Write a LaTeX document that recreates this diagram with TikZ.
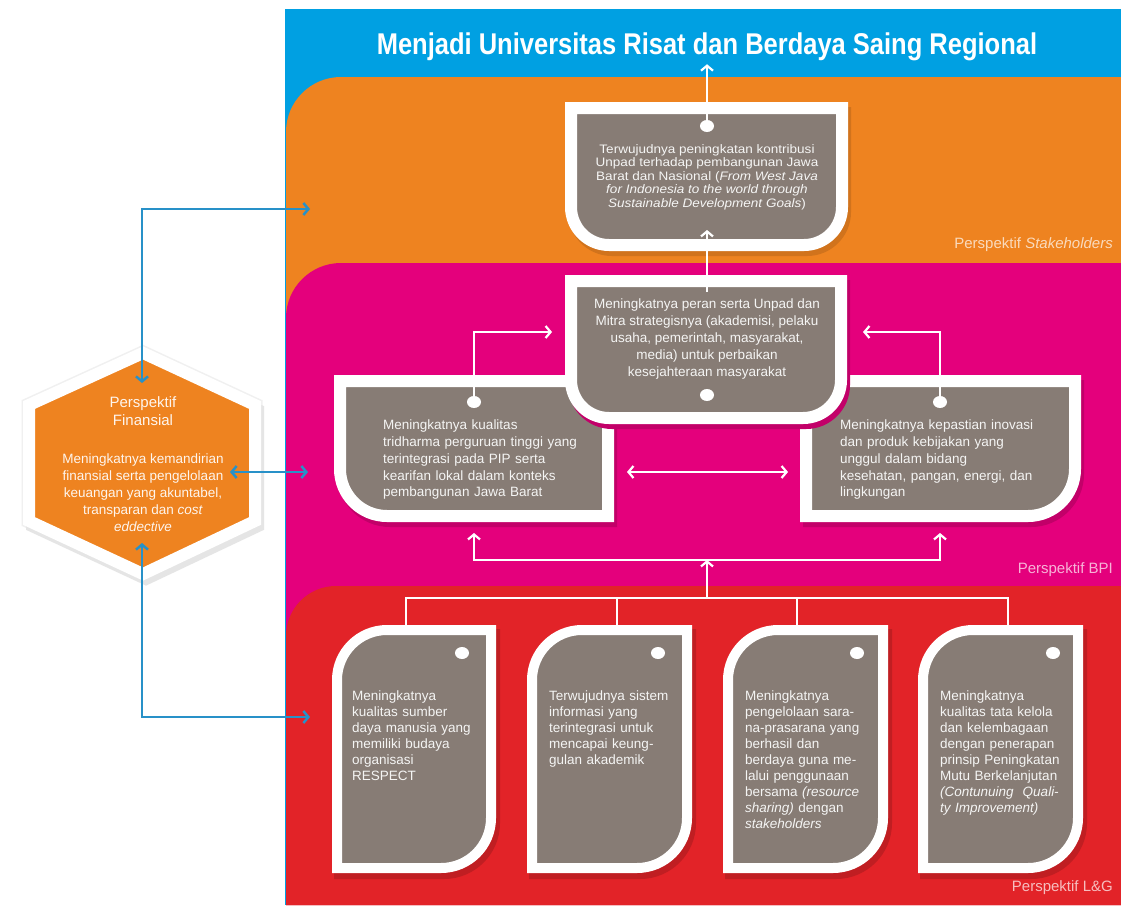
\documentclass[tikz,border=0pt]{standalone}
\usepackage{fontspec}
\setmainfont{Liberation Sans}
\newfontfamily\titlefont{Liberation Sans}[FakeStretch=0.85]
\newfontfamily\widefont{Liberation Sans}[FakeStretch=1.1]
\usetikzlibrary{arrows.meta,shapes.geometric}

\definecolor{bandblue}{RGB}{0,160,226}
\definecolor{bandorange}{RGB}{238,131,32}
\definecolor{bandpink}{RGB}{228,0,124}
\definecolor{bandred}{RGB}{226,35,40}
\definecolor{boxgray}{RGB}{135,124,117}
\definecolor{linkblue}{RGB}{40,145,200}

% outlines, in px (y grows downwards)
\newcommand{\bandshape}[2]{(286,905) -- (286,#1+#2) arc[start angle=180,end angle=270,radius=#2] -- (1121,#1) -- (1121,905) -- cycle}
\newcommand{\cupbox}[5]{(#1,#2) -- (#3,#2) -- (#3,#4-#5) arc[start angle=0,end angle=90,radius=#5] -- (#1+#5,#4) arc[start angle=90,end angle=180,radius=#5] -- cycle}
\newcommand{\leftcup}[5]{(#1,#2) -- (#3,#2) -- (#3,#4) -- (#1+#5,#4) arc[start angle=90,end angle=180,radius=#5] -- cycle}
\newcommand{\rightcup}[5]{(#1,#2) -- (#3,#2) -- (#3,#4-#5) arc[start angle=0,end angle=90,radius=#5] -- (#1,#4) -- cycle}
\newcommand{\leafbox}[5]{(#1,#2+#5) arc[start angle=180,end angle=270,radius=#5] -- (#3,#2) -- (#3,#4-#5) arc[start angle=0,end angle=90,radius=#5] -- (#1,#4) -- cycle}

\tikzset{
	boxshape/.style={fill=boxgray, draw=white, line width=12pt},
	leafshape/.style={fill=boxgray, draw=white, line width=10pt},
	boxshadow/.style={fill=#1, draw=#1, line width=12pt, shift={(3,5)}},
	knob/.style={ellipse, fill=white, inner sep=0pt, minimum width=14pt, minimum height=12pt},
	boxtext/.style={text=white!92!boxgray, inner sep=0pt, font=\fontsize{13.5}{16.5}\selectfont},
	lbl/.style={text=white, text opacity=0.7, anchor=east, inner sep=0pt, font=\fontsize{15}{18}\selectfont},
	wline/.style={draw=white, line width=2.2pt},
	warrow/.style={wline, -{Straight Barb[length=5pt,width=12pt]}},
	wboth/.style={wline, {Straight Barb[length=5pt,width=12pt]}-{Straight Barb[length=5pt,width=12pt]}},
	barrow/.style={draw=linkblue, line width=2.5pt, {Straight Barb[length=5pt,width=12pt]}-{Straight Barb[length=5pt,width=12pt]}}
}

\begin{document}
\begin{tikzpicture}[x=1pt, y=-1pt]

	\path[fill=white, use as bounding box] (0,0) rectangle (1121,905);

	% bands
	\fill[bandblue] (285,9) rectangle (1121,905);
	\fill[bandorange] \bandshape{77}{55};
	\fill[bandpink] \bandshape{263}{55};
	\fill[bandred] \bandshape{586}{50};

	\node[text=white, inner sep=3pt, font=\titlefont\bfseries\fontsize{30}{34}\selectfont] (title) at (707,47) {Menjadi Universitas Risat dan Berdaya Saing Regional};
	\node[lbl] (lstk) at (1113,245) {Perspektif \textit{Stakeholders}};
	\node[lbl] (lbpi) at (1113,570) {Perspektif BPI};
	\node[lbl] (llg) at (1113,888) {Perspektif L\&G};

	% finansial hexagon
	\path[draw=black!6, line width=15pt] (143,353) -- (255,405) -- (255,521) -- (143,574) -- (29,521) -- (29,405) -- cycle;
	\path[boxshadow=black!10] (143,353) -- (255,405) -- (255,521) -- (143,574) -- (29,521) -- (29,405) -- cycle;
	\path[fill=bandorange, draw=white, line width=12pt] (143,353) -- (255,405) -- (255,521) -- (143,574) -- (29,521) -- (29,405) -- cycle;

	% boxes
	\path[boxshadow=bandorange!88!black] \cupbox{571}{108}{842}{245}{38};
	\path[boxshape] \cupbox{571}{108}{842}{245}{38};
	\path[boxshadow=bandpink!85!black] \leftcup{340}{381}{608}{516}{47};
	\path[boxshadow=bandpink!85!black] \rightcup{806}{381}{1075}{516}{47};
	\path[boxshape] \leftcup{340}{381}{608}{516}{47};
	\path[boxshape] \rightcup{806}{381}{1075}{516}{47};
	\path[boxshadow=bandpink!85!black] \cupbox{571}{281}{841}{418}{38};
	\path[boxshape] \cupbox{571}{281}{841}{418}{38};
	\foreach \x / \y in {337/491, 532/687, 728/883, 923/1078}
	{
		\path[boxshadow=bandred!85!black] \leafbox{\x}{630}{\y}{868}{50};
		\path[leafshape] \leafbox{\x}{630}{\y}{868}{50};
	};

	\node[text=white!92!bandorange, align=center, font=\fontsize{15}{18}\selectfont] (fintitle) at (143,411) {Perspektif\\Finansial};
	\node[text=white!92!bandorange, align=center, font=\fontsize{13.5}{17}\selectfont] (fin) at (143,493) {Meningkatnya kemandirian\\finansial serta pengelolaan\\keuangan yang akuntabel,\\transparan dan \textit{cost}\\\textit{eddective}};

	\node[boxtext, align=center, font=\widefont\fontsize{12.3}{13.5}\selectfont] (s1) at (707,177) {Terwujudnya peningkatan kontribusi\\Unpad terhadap pembangunan Jawa\\Barat dan Nasional (\textit{From West Java}\\\textit{for Indonesia to the world through}\\\textit{Sustainable Development Goals})};
	\node[boxtext, align=center, font=\fontsize{13.5}{17}\selectfont] (b1) at (707,339) {Meningkatnya peran serta Unpad dan\\Mitra strategisnya (akademisi, pelaku\\usaha, pemerintah, masyarakat,\\media) untuk perbaikan\\kesejahteraan masyarakat};
	\node[boxtext, align=left, text width=215pt, anchor=west, font=\fontsize{13.5}{16.75}\selectfont] (b2) at (383,460) {Meningkatnya kualitas\\tridharma perguruan tinggi yang\\terintegrasi pada PIP serta\\kearifan lokal dalam konteks\\pembangunan Jawa Barat};
	\node[boxtext, align=left, text width=215pt, anchor=west, font=\fontsize{13.5}{16.75}\selectfont] (b3) at (840,460) {Meningkatnya kepastian inovasi\\dan produk kebijakan yang\\unggul dalam bidang\\kesehatan, pangan, energi, dan\\lingkungan};

	\node[boxtext, align=left, text width=140pt, anchor=north west, font=\fontsize{13.5}{16}\selectfont] (l1) at (352,691) {Meningkatnya\\kualitas sumber\\daya manusia yang\\memiliki budaya\\organisasi\\RESPECT};
	\node[boxtext, align=left, text width=140pt, anchor=north west, font=\fontsize{13.5}{16}\selectfont] (l2) at (549,691) {Terwujudnya sistem\\informasi yang\\terintegrasi untuk\\mencapai keung-\\gulan akademik};
	\node[boxtext, align=left, text width=140pt, anchor=north west, font=\fontsize{13.5}{16}\selectfont] (l3) at (745,691) {Meningkatnya\\pengelolaan sara-\\na-prasarana yang\\berhasil dan\\berdaya guna me-\\lalui penggunaan\\bersama \textit{(resource}\\\textit{sharing)} dengan\\\textit{stakeholders}};
	\node[boxtext, align=left, text width=140pt, anchor=north west, font=\fontsize{13.5}{16}\selectfont] (l4) at (940,691) {Meningkatnya\\kualitas tata kelola\\dan kelembagaan\\dengan penerapan\\prinsip Peningkatan\\Mutu Berkelanjutan\\\textit{(Contunuing\ \ Quali-}\\\textit{ty Improvement)}};

	\foreach \n / \x / \y in {d1/707/126, db1/707/395, d2/474/402, d3/940/402, dl1/462/653, dl2/658/653, dl3/857/653, dl4/1053/653}
	{
		\node[knob] (\n) at (\x,\y) {};
	};

	% connector ends
	\coordinate (s1in) at (707,230);
	\coordinate (b1top) at (707,292);
	\coordinate (b1l) at (552,332);
	\coordinate (b1r) at (863,332);
	\coordinate (b2r) at (627,472);
	\coordinate (b3l) at (788,472);
	\coordinate (b2b) at (474,533);
	\coordinate (b3b) at (940,533);
	\coordinate (jn) at (707,560);
	\coordinate (bus) at (707,598);
	\foreach \i / \x in {1/406, 2/617, 3/797, 4/1008}
	{
		\coordinate (lt\i) at (\x,625);
	};
	\coordinate (fintop) at (142,383);
	\coordinate (finbot) at (142,543);
	\coordinate (finr) at (230,472);
	\coordinate (stk) at (310,209);
	\coordinate (bpi) at (308,472);
	\coordinate (lg) at (310,717);

	\draw[warrow] (d1) -- (title.south);
	\draw[warrow] (b1top) -- (s1in);
	\draw[warrow] (d2) |- (b1l);
	\draw[warrow] (d3) |- (b1r);
	\draw[wboth] (b2r) -- (b3l);
	\draw[warrow] (jn) -| (b2b);
	\draw[warrow] (jn) -| (b3b);
	\draw[warrow] (bus) -- (jn);
	\foreach \i in {1,...,4}
	{
		\draw[wline, line width=1.8pt] (bus) -| (lt\i);
	};

	\draw[barrow] (stk) -| (fintop);
	\draw[barrow] (finbot) |- (lg);
	\draw[barrow] (finr) -- (bpi);
\end{tikzpicture}
\end{document}
